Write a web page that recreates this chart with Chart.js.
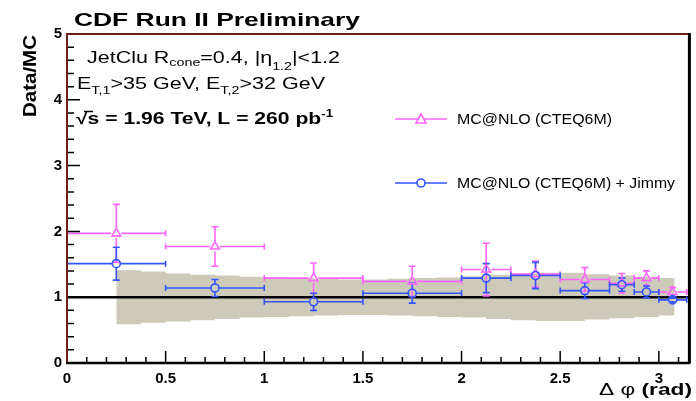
<!DOCTYPE html>
<html>
<head>
<meta charset="utf-8">
<script src="https://cdn.jsdelivr.net/npm/chart.js@4.4.1/dist/chart.umd.min.js"></script>
<style>
  html, body { margin: 0; padding: 0; background: #fff; }
  canvas { display: block; }
</style>
</head>
<body>
<canvas id="ratio" width="696" height="401"></canvas>
<script>
// delta-phi binning
const binLow    = [0, 0.5, 1.0, 1.5, 2.0, 2.25, 2.5, 2.75, 2.875, 3.0];
const binHigh   = [0.5, 1.0, 1.5, 2.0, 2.25, 2.5, 2.75, 2.875, 3.0, 3.1416];
const binCenter = [0.25, 0.75, 1.25, 1.75, 2.125, 2.375, 2.625, 2.8125, 2.9375, 3.07];

// Data / MC ratios
const mcnlo      = [1.97, 1.77, 1.29, 1.24, 1.42, 1.35, 1.27, 1.21, 1.29, 1.08];
const mcnloErr   = [0.44, 0.30, 0.23, 0.23, 0.40, 0.20, 0.18, 0.15, 0.11, 0.07];
const jimmy      = [1.51, 1.14, 0.93, 1.06, 1.29, 1.33, 1.10, 1.19, 1.08, 0.96];
const jimmyErr   = [0.25, 0.13, 0.13, 0.15, 0.22, 0.20, 0.12, 0.10, 0.09, 0.03];

// systematic uncertainty band
const bandX  = [0.25, 0.375, 0.5, 0.625, 0.75, 0.875, 1.0, 1.125, 1.25, 1.375, 1.5, 1.625,
                1.75, 1.875, 2.0, 2.125, 2.25, 2.375, 2.5, 2.625, 2.75, 2.875, 3.0, 3.08];
const bandHi = [1.41, 1.39, 1.36, 1.34, 1.33, 1.31, 1.30, 1.29, 1.28, 1.27, 1.27, 1.28,
                1.29, 1.30, 1.32, 1.34, 1.36, 1.37, 1.37, 1.35, 1.33, 1.31, 1.29, 1.29];
const bandLo = [0.59, 0.61, 0.63, 0.65, 0.67, 0.69, 0.70, 0.71, 0.72, 0.73, 0.73, 0.72,
                0.71, 0.70, 0.69, 0.67, 0.65, 0.64, 0.64, 0.66, 0.68, 0.70, 0.72, 0.73];

const xTicks = [0, 0.5, 1, 1.5, 2, 2.5, 3];
const yTicks = [0, 1, 2, 3, 4, 5];

const PINK = 'rgb(255,100,255)';
const BLUE = 'rgb(50,85,255)';
const BAND = 'rgb(205,202,185)';
const FONT = '"Liberation Sans", Arial, Helvetica, sans-serif';

const pts = (xs, ys) => xs.map((x, i) => ({ x: x, y: ys[i] }));

// runs: [text, size, weight, dy]; squeezed/stretched to the given width
function drawRuns(ctx, runs, x, y, width) {
  ctx.save();
  let total = 0;
  runs.forEach(r => { ctx.font = `${r[2]} ${r[1]}px ${FONT}`; total += ctx.measureText(r[0]).width; });
  ctx.translate(x, y);
  ctx.scale(width ? width / total : 1, 1);
  ctx.textBaseline = 'alphabetic';
  ctx.textAlign = 'left';
  let cx = 0;
  runs.forEach(r => {
    ctx.font = `${r[2]} ${r[1]}px ${FONT}`;
    ctx.fillText(r[0], cx, r[3] || 0);
    cx += ctx.measureText(r[0]).width;
  });
  ctx.restore();
}

function errorBars(ctx, xs, ys, vals, errs, color, gap) {
  ctx.save();
  ctx.strokeStyle = color;
  ctx.lineWidth = 1.6;
  vals.forEach((v, i) => {
    const px = xs.getPixelForValue(binCenter[i]);
    const py = ys.getPixelForValue(v);
    const x0 = xs.getPixelForValue(binLow[i]);
    const x1 = Math.min(xs.getPixelForValue(binHigh[i]), xs.right - 1);
    const yt = ys.getPixelForValue(v + errs[i]);
    const yb = ys.getPixelForValue(v - errs[i]);
    ctx.beginPath();
    ctx.moveTo(x0, py); ctx.lineTo(px - gap, py);
    ctx.moveTo(px + gap, py); ctx.lineTo(x1, py);
    ctx.moveTo(x0, py - 3); ctx.lineTo(x0, py + 3);
    ctx.moveTo(x1, py - 3); ctx.lineTo(x1, py + 3);
    ctx.moveTo(px, py - gap); ctx.lineTo(px, yt);
    ctx.moveTo(px, py + gap); ctx.lineTo(px, yb);
    ctx.moveTo(px - 3.5, yt); ctx.lineTo(px + 3.5, yt);
    ctx.moveTo(px - 3.5, yb); ctx.lineTo(px + 3.5, yb);
    ctx.stroke();
  });
  ctx.restore();
}

const rootStyle = {
  id: 'rootStyle',
  afterDatasetDraw(chart, args) {
    if (chart.data.datasets[args.index].label !== 'bandHi') return;
    const { ctx, chartArea: a, scales: { x, y } } = chart;
    // reference line at ratio = 1
    ctx.save();
    ctx.strokeStyle = '#000';
    ctx.lineWidth = 2.5;
    ctx.beginPath();
    ctx.moveTo(a.left, y.getPixelForValue(1));
    ctx.lineTo(a.right, y.getPixelForValue(1));
    ctx.stroke();
    ctx.restore();
    errorBars(ctx, x, y, mcnlo, mcnloErr, PINK, 5);
    errorBars(ctx, x, y, jimmy, jimmyErr, BLUE, 4);
  },
  afterDraw(chart) {
    const { ctx, chartArea: a, scales: { x, y } } = chart;
    ctx.save();
    // inward tick marks
    ctx.strokeStyle = '#000';
    ctx.lineWidth = 1.5;
    ctx.beginPath();
    for (let k = 0; k <= 25; k++) {
      const py = y.getPixelForValue(k * 0.2);
      const len = k % 5 === 0 ? 13 : 7;
      ctx.moveTo(a.left, py); ctx.lineTo(a.left + len, py);
    }
    for (let k = 0; k <= 31; k++) {
      const px = x.getPixelForValue(k * 0.1);
      const len = k % 5 === 0 ? 12 : 6;
      ctx.moveTo(px, a.bottom); ctx.lineTo(px, a.bottom - len);
    }
    ctx.stroke();

    // frame
    ctx.lineWidth = 2;
    ctx.strokeStyle = '#6a1f14';
    ctx.beginPath();
    ctx.moveTo(a.left, a.bottom); ctx.lineTo(a.left, a.top); ctx.lineTo(a.right, a.top);
    ctx.stroke();
    ctx.strokeStyle = '#000';
    ctx.lineWidth = 3;
    ctx.beginPath();
    ctx.moveTo(a.right, a.top - 1); ctx.lineTo(a.right, a.bottom);
    ctx.stroke();
    ctx.lineWidth = 2.5;
    ctx.beginPath();
    ctx.moveTo(a.left - 1, a.bottom); ctx.lineTo(a.right + 1, a.bottom);
    ctx.stroke();

    // legend
    ctx.lineWidth = 1.6;
    ctx.strokeStyle = PINK;
    ctx.beginPath(); ctx.moveTo(395, 119); ctx.lineTo(447, 119); ctx.stroke();
    ctx.fillStyle = '#fff';
    ctx.beginPath(); ctx.moveTo(421, 114); ctx.lineTo(426, 123); ctx.lineTo(416, 123); ctx.closePath();
    ctx.fill(); ctx.stroke();
    ctx.strokeStyle = BLUE;
    ctx.beginPath(); ctx.moveTo(395, 183); ctx.lineTo(447, 183); ctx.stroke();
    ctx.beginPath(); ctx.arc(421, 183, 4, 0, Math.PI * 2); ctx.fill(); ctx.stroke();

    ctx.fillStyle = '#000';
    drawRuns(ctx, [['MC@NLO (CTEQ6M)', 14, 'normal']], 457, 124, 155);
    drawRuns(ctx, [['MC@NLO (CTEQ6M) + Jimmy', 14, 'normal']], 457, 188, 218);

    // title and annotations
    drawRuns(ctx, [['CDF Run II Preliminary', 18.5, 'bold']], 74, 26, 286);
    drawRuns(ctx, [['JetClu R', 16.5, 'normal'], ['cone', 11, 'normal', 3], ['=0.4, |\u03B7', 16.5, 'normal'],
                   ['1.2', 11, 'normal', 7], ['|<1.2', 16.5, 'normal']], 87, 63, 253);
    drawRuns(ctx, [['E', 16.5, 'normal'], ['T,1', 11, 'normal', 5], ['>35 GeV, E', 16.5, 'normal'],
                   ['T,2', 11, 'normal', 5], ['>32 GeV', 16.5, 'normal']], 77, 89, 248);
    drawRuns(ctx, [['\u221As = 1.96 TeV, L = 260 pb', 16, 'bold'], ['-1', 10, 'bold', -7]], 76, 124, 257);
    // bar over the s of the root sign
    ctx.lineWidth = 1.5;
    ctx.strokeStyle = '#000';
    ctx.beginPath(); ctx.moveTo(84, 111.5); ctx.lineTo(93, 111.5); ctx.stroke();

    // axis titles
    drawRuns(ctx, [['\u0394 \u03C6 ', 16, 'normal'], ['(rad)', 16, 'bold']], 599, 395, 93);
    ctx.save();
    ctx.translate(36, 117);
    ctx.rotate(-Math.PI / 2);
    drawRuns(ctx, [['Data/MC', 18, 'bold']], 0, 0, 82);
    ctx.restore();
    ctx.restore();
  }
};

new Chart(document.getElementById('ratio').getContext('2d'), {
  type: 'scatter',
  data: {
    datasets: [
      {
        label: 'bandLo', data: pts(bandX, bandLo), showLine: true, stepped: true,
        borderWidth: 0, pointRadius: 0, fill: false, order: 3
      },
      {
        label: 'bandHi', data: pts(bandX, bandHi), showLine: true, stepped: true,
        borderWidth: 0, pointRadius: 0, fill: '-1', backgroundColor: BAND, order: 2
      },
      {
        label: 'MC@NLO (CTEQ6M)', data: pts(binCenter, mcnlo), pointStyle: 'triangle',
        pointRadius: 5, borderColor: PINK, backgroundColor: 'rgba(0,0,0,0)', borderWidth: 1.6, order: 1
      },
      {
        label: 'MC@NLO (CTEQ6M) + Jimmy', data: pts(binCenter, jimmy), pointStyle: 'circle',
        pointRadius: 4, borderColor: BLUE, backgroundColor: 'rgba(0,0,0,0)', borderWidth: 1.6, order: 0
      }
    ]
  },
  options: {
    responsive: false,
    animation: false,
    devicePixelRatio: 1,
    layout: { padding: { top: 34, right: 6, left: 0, bottom: 0 } },
    plugins: { legend: { display: false }, tooltip: { enabled: false } },
    scales: {
      x: {
        type: 'linear', min: 0, max: 3.155,
        afterBuildTicks: s => { s.ticks = xTicks.map(v => ({ value: v })); },
        afterFit: s => { s.height = 38; },
        grid: { display: false, drawTicks: false },
        border: { display: false },
        ticks: {
          color: '#000', padding: 7, maxRotation: 0, callback: v => String(v),
          font: { family: FONT, size: 15, weight: 'bold' }
        }
      },
      y: {
        type: 'linear', min: 0, max: 5,
        afterBuildTicks: s => { s.ticks = yTicks.map(v => ({ value: v })); },
        afterFit: s => { s.width = 67; },
        grid: { display: false, drawTicks: false },
        border: { display: false },
        ticks: {
          color: '#000', padding: 5, callback: v => String(v),
          font: { family: FONT, size: 15, weight: 'bold' }
        }
      }
    }
  },
  plugins: [rootStyle]
});
</script>
</body>
</html>
